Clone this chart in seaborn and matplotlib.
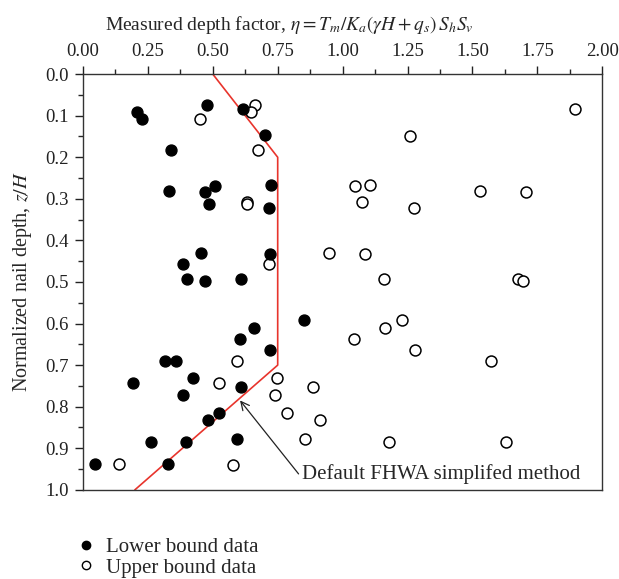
import matplotlib
matplotlib.use("Agg")
import matplotlib.pyplot as plt
from matplotlib.lines import Line2D
import seaborn as sns
import pandas as pd

sns.set_style("white")
plt.rcParams["font.family"] = ["Liberation Serif", "DejaVu Serif"]
plt.rcParams["mathtext.fontset"] = "stix"

# lower bound data (filled circles): measured depth factor vs normalized depth
lower_eta = [0.207, 0.229, 0.477, 0.618, 0.701, 0.338, 0.333, 0.469, 0.509, 0.487,
             0.726, 0.716, 0.454, 0.719, 0.384, 0.400, 0.469, 0.610, 0.853, 0.658,
             0.605, 0.721, 0.316, 0.360, 0.425, 0.194, 0.608, 0.385, 0.523, 0.483,
             0.263, 0.398, 0.593, 0.045, 0.326]
lower_depth = [0.092, 0.109, 0.075, 0.085, 0.147, 0.183, 0.282, 0.284, 0.270, 0.313,
               0.267, 0.323, 0.430, 0.433, 0.457, 0.493, 0.497, 0.494, 0.592, 0.610,
               0.636, 0.663, 0.690, 0.690, 0.730, 0.744, 0.752, 0.771, 0.815, 0.833,
               0.885, 0.885, 0.878, 0.938, 0.939]

# upper bound data (open circles)
upper_eta = [0.663, 0.646, 0.450, 0.673, 0.631, 0.631, 0.716, 0.746, 0.523, 0.592,
             0.739, 0.785, 0.857, 0.140, 0.577, 1.896, 1.258, 1.047, 1.106, 1.075,
             1.273, 1.529, 1.708, 0.949, 1.087, 1.161, 1.674, 1.696, 1.228, 1.165,
             1.044, 1.277, 1.573, 0.886, 0.913, 1.180, 1.631]
upper_depth = [0.075, 0.092, 0.109, 0.183, 0.308, 0.313, 0.457, 0.730, 0.744, 0.690,
               0.771, 0.815, 0.877, 0.938, 0.941, 0.084, 0.148, 0.270, 0.266, 0.308,
               0.323, 0.282, 0.284, 0.431, 0.432, 0.494, 0.494, 0.497, 0.592, 0.610,
               0.636, 0.663, 0.689, 0.752, 0.833, 0.884, 0.885]

# default FHWA simplified method envelope
fhwa_eta = [0.5, 0.75, 0.75, 0.2]
fhwa_depth = [0.0, 0.2, 0.7, 1.0]

lower = pd.DataFrame({"eta": lower_eta, "depth": lower_depth})
upper = pd.DataFrame({"eta": upper_eta, "depth": upper_depth})
fhwa = pd.DataFrame({"eta": fhwa_eta, "depth": fhwa_depth})

fig = plt.figure(figsize=(6.19, 5.79), dpi=100)
ax = fig.add_axes([0.134, 0.154, 0.839, 0.718])

sns.lineplot(data=fhwa, x="eta", y="depth", sort=False, estimator=None,
             color="#e8342c", linewidth=1.2, ax=ax)
sns.scatterplot(data=upper, x="eta", y="depth", color="white", edgecolor="black",
                linewidth=1.1, s=62, ax=ax, zorder=3)
sns.scatterplot(data=lower, x="eta", y="depth", color="black", edgecolor="black",
                linewidth=1.0, s=62, ax=ax, zorder=4)

ax.set_xlim(0, 2.0)
ax.set_ylim(1.0, 0.0)
ax.xaxis.tick_top()
ax.xaxis.set_label_position("top")
ax.set_xticks([0, 0.25, 0.5, 0.75, 1.0, 1.25, 1.5, 1.75, 2.0])
ax.set_xticklabels(["0.00", "0.25", "0.50", "0.75", "1.00", "1.25", "1.50", "1.75", "2.00"])
ax.set_xticks([0.125 + 0.25 * i for i in range(8)], minor=True)
ax.set_yticks([i / 10 for i in range(11)])
ax.set_yticklabels([f"{i / 10:.1f}" for i in range(11)])
ax.set_yticks([0.05 + 0.1 * i for i in range(10)], minor=True)
ax.tick_params(which="major", direction="out", length=6, width=1, labelsize=13.5,
               top=True, bottom=False, left=True, right=False, pad=4, colors="#222222")
ax.tick_params(which="minor", direction="out", length=3.5, width=1,
               top=True, bottom=False, left=True, right=False)
for sp in ax.spines.values():
    sp.set_color("#333333")
    sp.set_linewidth(1.0)

ax.set_xlabel(r"Measured depth factor, $\eta = T_m/K_a(\gamma H + q_s)\,S_hS_v$",
              fontsize=14, labelpad=9)
ax.xaxis.set_label_coords(0.397, 1.105)
ax.set_ylabel(r"Normalized nail depth, $z/H$", fontsize=14.5, labelpad=8)

ax.annotate("Default FHWA simplifed method", xy=(0.605, 0.785), xytext=(0.843, 0.962),
            fontsize=15, va="center", ha="left",
            arrowprops=dict(arrowstyle="->", color="#222222", lw=0.9,
                            shrinkA=0, shrinkB=0,
                            relpos=(0.0, 0.3)))

handles = [
    Line2D([], [], marker="o", linestyle="none", markerfacecolor="black",
           markeredgecolor="black", markersize=6),
    Line2D([], [], marker="o", linestyle="none", markerfacecolor="white",
           markeredgecolor="black", markersize=6),
]
fig.legend(handles, ["Lower bound data", "Upper bound data"], loc="upper left",
           bbox_to_anchor=(0.105, 0.09), frameon=False, fontsize=15,
           handlelength=1.0, handletextpad=0.45, labelspacing=0.05, borderpad=0)

fig.savefig("out.png", dpi=100)
